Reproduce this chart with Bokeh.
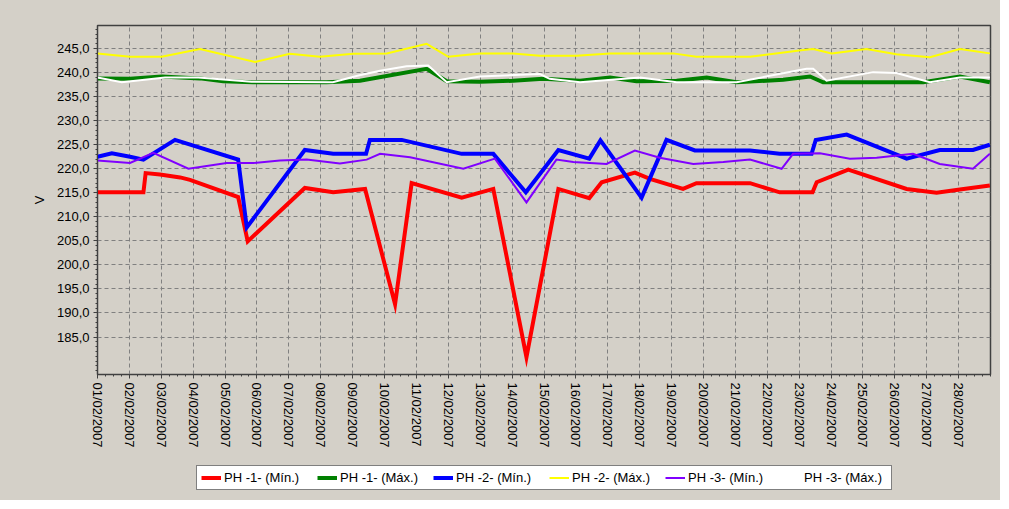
from bokeh.plotting import figure
from bokeh.layouts import column
from bokeh.models import Range1d, FixedTicker, CustomJSTickFormatter, Legend, LegendItem
from bokeh.embed import file_html
from bokeh.resources import INLINE

# ---- data (x = days since 01/02/2007 00:00) ----
date_labels = ["%02d/02/2007" % d for d in range(1, 29)]

red_days = [0.0, 1.44, 1.51, 1.96, 2.59, 2.90, 4.41, 4.71, 6.50, 7.39, 8.39, 9.33, 9.85, 11.42, 12.41,
            13.45, 14.45, 15.42, 15.81, 16.85, 17.32, 18.36, 18.78, 20.46, 21.39, 22.42, 22.55, 23.54,
            25.37, 26.31, 27.04, 27.98]
red_vals = [215.1, 215.1, 219.1, 218.8, 218.2, 217.7, 214.1, 204.9, 216.0, 215.1, 215.8, 191.8, 217.0,
            214.0, 215.8, 180.8, 215.8, 213.9, 217.2, 219.2, 217.9, 215.8, 217.0, 217.0, 215.1, 215.1,
            217.2, 219.8, 215.8, 215.0, 215.7, 216.5]

green_days = [0.0, 1.02, 2.01, 3.21, 3.94, 4.88, 7.18, 8.23, 10.32, 10.95, 11.99, 13.03, 13.97, 15.13,
              16.07, 16.90, 18.16, 19.10, 20.04, 21.50, 22.34, 22.75, 25.89, 27.04, 27.98]
green_vals = [238.8, 238.7, 239.2, 238.8, 238.2, 238.0, 238.0, 238.3, 240.8, 238.2, 238.1, 238.3, 238.7,
              238.3, 239.0, 238.2, 238.3, 239.0, 238.0, 238.5, 239.2, 238.0, 238.0, 239.2, 238.0]

blue_days = [0.0, 0.45, 1.02, 1.44, 2.43, 4.41, 4.68, 6.50, 7.39, 8.42, 8.54, 9.54, 11.42, 12.41, 13.43,
             14.45, 15.42, 15.77, 17.06, 17.84, 18.73, 20.46, 21.39, 22.39, 22.52, 23.49, 25.37, 26.41,
             27.45, 27.98]
blue_vals = [222.5, 223.2, 222.5, 221.9, 226.0, 221.9, 207.8, 223.9, 223.1, 223.1, 226.0, 226.0, 223.1,
             223.1, 215.1, 223.9, 222.1, 225.9, 214.0, 226.0, 223.8, 223.8, 223.1, 223.1, 226.0, 227.1,
             222.1, 223.9, 223.9, 225.0]

yellow_days = [0.0, 1.02, 2.01, 3.21, 4.94, 6.03, 6.97, 8.02, 9.07, 10.32, 11.00, 11.99, 13.03, 13.87,
               15.02, 16.07, 18.05, 18.78, 20.46, 22.13, 22.44, 23.02, 24.11, 25.05, 26.10, 27.04, 27.98]
yellow_vals = [244.0, 243.3, 243.3, 244.9, 242.2, 243.9, 243.3, 243.9, 244.0, 246.0, 243.3, 244.0, 244.0,
               243.5, 243.5, 244.0, 244.0, 243.3, 243.3, 244.7, 244.9, 244.0, 244.9, 243.8, 243.2, 244.9,
               244.0]

purple_days = [0.0, 1.02, 1.75, 2.85, 4.05, 4.88, 5.72, 6.56, 7.60, 8.44, 8.86, 9.80, 11.47, 12.46, 13.45,
               14.39, 14.92, 15.96, 16.85, 17.63, 18.68, 19.62, 20.46, 21.45, 21.81, 22.65, 23.59, 24.43,
               25.57, 26.41, 27.45, 27.98]
purple_vals = [221.7, 221.2, 223.3, 220.0, 221.2, 221.2, 221.7, 221.9, 221.1, 221.9, 223.1, 222.4, 220.0,
               222.1, 213.0, 221.9, 221.4, 221.0, 223.8, 222.3, 221.0, 221.4, 221.9, 220.0, 223.1, 223.2,
               222.1, 222.3, 223.1, 221.0, 220.0, 223.1]

white_days = [0.0, 0.76, 2.12, 3.16, 4.83, 7.38, 8.18, 8.86, 9.69, 10.37, 10.95, 11.99, 13.87, 14.18,
              15.13, 17.01, 18.16, 20.04, 22.23, 22.44, 22.86, 24.32, 25.05, 26.10, 27.04, 27.98]
white_vals = [239.0, 238.0, 239.0, 239.0, 238.1, 238.0, 239.4, 240.4, 241.3, 241.5, 238.0, 239.2, 239.7,
              238.7, 238.0, 239.0, 238.0, 238.0, 240.8, 240.8, 238.3, 240.1, 239.9, 238.0, 239.0, 239.0]

series_names = ["PH -1- (Mín.)", "PH -1- (Máx.)", "PH -2- (Mín.)", "PH -2- (Máx.)", "PH -3- (Mín.)", "PH -3- (Máx.)"]
y_ticks = [185, 190, 195, 200, 205, 210, 215, 220, 225, 230, 235, 240, 245]

BG = "#D4D0C8"
FONT = "Liberation Sans"
W = 1000

p = figure(width=W, height=460, x_range=Range1d(0, 28), y_range=Range1d(177.2, 249.8),
           output_backend="svg", toolbar_location=None,
           min_border_left=97, min_border_right=10, min_border_top=25, min_border_bottom=86,
           background_fill_color=BG, border_fill_color=BG)
p.outline_line_color = "#404040"
p.outline_line_width = 1.5

xt = FixedTicker(ticks=list(range(0, 28)), minor_ticks=[i * 0.25 for i in range(0, 113)])
yt = FixedTicker(ticks=y_ticks, minor_ticks=list(range(178, 250)))
p.xaxis.ticker = xt
p.yaxis.ticker = yt
p.xgrid.ticker = xt
p.ygrid.ticker = yt
for g in (p.xgrid, p.ygrid):
    g.grid_line_color = "#808080"
    g.grid_line_dash = "4 3"
    g.grid_line_width = 1

p.xaxis.major_label_overrides = {i: lab for i, lab in enumerate(date_labels)}
p.xaxis.major_label_orientation = "vertical"
p.yaxis.formatter = CustomJSTickFormatter(code="return tick.toFixed(1).replace('.', ',');")
p.yaxis.axis_label = "V"

for ax in (p.xaxis[0], p.yaxis[0]):
    ax.axis_line_color = "#404040"
    ax.major_tick_line_color = "#404040"
    ax.minor_tick_line_color = "#404040"
    ax.major_tick_in = 0
    ax.major_tick_out = 4
    ax.minor_tick_in = 0
    ax.minor_tick_out = 2
    ax.major_label_text_font = FONT
    ax.major_label_text_font_size = "13px"
    ax.major_label_text_color = "black"
    ax.axis_label_text_font = FONT
    ax.axis_label_text_font_size = "13px"
    ax.axis_label_text_font_style = "normal"
    ax.axis_label_text_color = "black"
p.yaxis.major_label_standoff = 4
p.xaxis.major_label_standoff = 4
p.yaxis.axis_label_standoff = 7

specs = [
    (red_days, red_vals, "#FF0000", 4),
    (green_days, green_vals, "#008000", 4),
    (blue_days, blue_vals, "#0000FF", 4),
    (yellow_days, yellow_vals, "#FFFF00", 2),
    (purple_days, purple_vals, "#8000FF", 2),
    (white_days, white_vals, "#FFFFFF", 2),
]
for xs, ys, col, w in specs:
    p.line(xs, ys, line_color=col, line_width=w, line_join="miter")

# ---- legend strip under the chart (same side borders so frames line up) ----
q = figure(width=W, height=40, x_range=Range1d(97, 990), y_range=Range1d(0, 40),
           output_backend="svg", toolbar_location=None,
           min_border_left=97, min_border_right=10, min_border_top=0, min_border_bottom=0,
           background_fill_color=BG, border_fill_color=BG)
q.outline_line_color = None
q.axis.visible = False
q.grid.visible = False
items = []
for (xs, ys, col, w), name in zip(specs, series_names):
    # same series, drawn outside this strip's ranges: only the legend swatch shows
    r = q.line(xs, ys, line_color=col, line_width=w)
    items.append(LegendItem(label=name, renderers=[r]))
legend = Legend(items=items, orientation="horizontal", location=(99, 10),
                label_text_font=FONT, label_text_font_size="13px", label_text_color="black",
                border_line_color="black", border_line_width=1.5,
                background_fill_color="white", background_fill_alpha=1,
                glyph_width=20, glyph_height=15, label_height=15, label_width=83,
                label_standoff=3, spacing=10, padding=4, margin=0)
q.add_layout(legend, "center")

layout = column(p, q, spacing=0, styles={"background-color": BG})
open("out.html", "w").write(file_html(layout, INLINE))
